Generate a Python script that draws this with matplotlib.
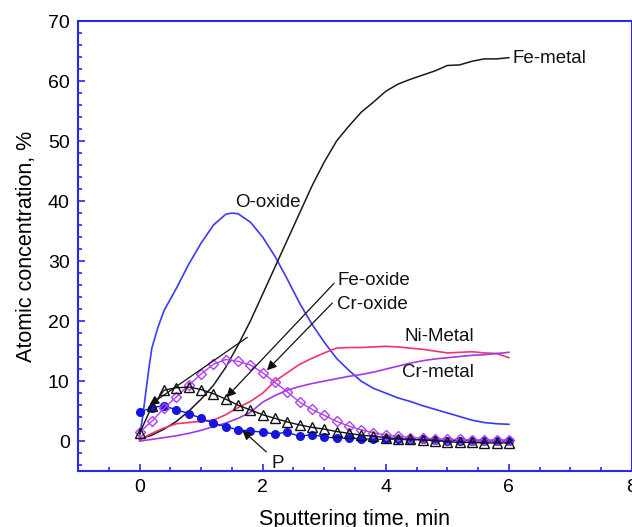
"""
plot.py
XPS depth profile: atomic concentration vs sputtering time.
"""

import numpy as np
import matplotlib
matplotlib.use("Agg")
import matplotlib.pyplot as plt
from matplotlib.ticker import MultipleLocator

plt.rcParams["font.family"] = ["Liberation Sans", "DejaVu Sans"]

# --- data --------------------------------------------------------------
t_line = [0, 0.05, 0.1, 0.15, 0.2, 0.3, 0.4, 0.6, 0.8, 1.0, 1.2, 1.4, 1.5,
          1.6, 1.8, 2.0, 2.2, 2.4, 2.6, 2.8, 3.0, 3.2, 3.4, 3.6, 3.8, 4.0,
          4.2, 4.4, 4.6, 4.8, 5.0, 5.2, 5.4, 5.6, 5.8, 6.0]
o_oxide = [0.7, 4.0, 8.0, 12.0, 15.5, 19.0, 21.8, 25.5, 29.5, 33.0, 36.0,
           37.8, 38.0, 37.9, 36.5, 34.0, 30.8, 27.0, 23.0, 19.5, 16.5, 13.8,
           11.8, 10.0, 8.8, 8.0, 7.2, 6.6, 5.9, 5.3, 4.7, 4.1, 3.5, 3.1,
           2.9, 2.8]

t_grid = [0.0, 0.2, 0.4, 0.6, 0.8, 1.0, 1.2, 1.4, 1.6, 1.8, 2.0, 2.2, 2.4,
          2.6, 2.8, 3.0, 3.2, 3.4, 3.6, 3.8, 4.0, 4.2, 4.4, 4.6, 4.8, 5.0,
          5.2, 5.4, 5.6, 5.8, 6.0]
fe_metal = [0.3, 1.0, 2.0, 3.3, 5.0, 7.0, 9.3, 12.3, 16.0, 20.0, 24.5, 29.0,
            33.5, 38.0, 42.5, 46.5, 50.0, 52.5, 54.8, 56.5, 58.3, 59.5, 60.3,
            61.0, 61.7, 62.6, 62.7, 63.3, 63.7, 63.7, 63.9]
ni_metal = [0.2, 1.3, 2.2, 2.9, 3.1, 3.3, 3.5, 4.4, 5.6, 6.6, 8.0, 10.0,
            11.4, 12.8, 13.8, 14.7, 15.5, 15.6, 15.6, 15.7, 15.8, 15.7, 15.5,
            15.3, 15.0, 14.7, 14.8, 14.9, 14.7, 14.6, 13.9]
cr_metal = [0.0, 0.3, 0.6, 0.9, 1.3, 1.8, 2.4, 3.0, 3.8, 4.8, 6.5, 7.6, 8.5,
            9.1, 9.6, 10.0, 10.4, 10.8, 11.1, 11.5, 12.0, 12.5, 13.0, 13.4,
            13.7, 13.9, 14.1, 14.3, 14.4, 14.6, 14.8]
cr_oxide = [1.5, 3.3, 5.5, 7.4, 9.3, 11.2, 12.8, 13.6, 13.3, 12.7, 11.4, 9.8,
            8.2, 6.5, 5.3, 4.3, 3.3, 2.5, 1.9, 1.4, 1.0, 0.8, 0.6, 0.5, 0.4,
            0.3, 0.3, 0.2, 0.2, 0.2, 0.2]
fe_oxide = [1.3, 5.8, 8.5, 8.9, 9.0, 8.6, 7.9, 7.0, 6.0, 5.2, 4.4, 3.8, 3.2,
            2.7, 2.3, 2.0, 1.6, 1.3, 1.0, 0.8, 0.6, 0.4, 0.3, 0.2, 0.1, -0.1,
            -0.2, -0.2, -0.3, -0.3, -0.3]
p_conc = [4.8, 5.6, 5.9, 5.2, 4.6, 3.8, 3.0, 2.4, 1.9, 1.7, 1.5, 1.2, 1.5,
          0.8, 1.1, 0.7, 0.5, 0.5, 0.4, 0.3, 0.3, 0.3, 0.2, 0.3, 0.2, 0.1,
          0.1, 0.1, 0.0, 0.0, 0.0]

# (text, x, y) for curve labels
labels = [
    ("Fe-metal", 6.06, 63.7),
    ("O-oxide", 1.56, 39.8),
    ("Fe-oxide", 3.21, 26.8),
    ("Cr-oxide", 3.21, 22.8),
    ("Ni-Metal", 4.30, 17.4),
    ("Cr-metal", 4.26, 11.4),
    ("P", 2.15, -3.7),
]
# (tail, head) for pointer arrows
arrows = [
    ((3.16, 26.3), (1.41, 7.3)),
    ((1.75, 17.3), (0.16, 6.0)),
    ((3.13, 23.0), (2.07, 11.8)),
    ((2.06, -1.8), (1.67, 1.8)),
]

AXIS_BLUE = "#2828f0"

fig = plt.figure(figsize=(6.32, 5.27), dpi=100)
ax = fig.add_axes([0.1234, 0.106, 0.8766, 0.854])

ax.plot(t_line, o_oxide, color="#3a3af5", lw=1.2)
ax.plot(t_grid, fe_metal, color="#1a1a1a", lw=1.1)
ax.plot(t_grid, ni_metal, color="#f5336a", lw=1.2)
ax.plot(t_grid, cr_metal, color="#a03ae8", lw=1.2)
ax.plot(t_grid, p_conc, color="#1515e0", lw=1.0, marker="o", ms=5.5,
        mfc="#1515e0", mec="#1515e0")
ax.plot(t_grid, cr_oxide, color="#b040f0", lw=1.0, marker="D", ms=5,
        mfc="none", mec="#b040f0", mew=1.0)
ax.plot(t_grid, fe_oxide, color="#111111", lw=1.0, marker="^", ms=7,
        mfc="none", mec="#111111", mew=1.0)

for txt, x, y in labels:
    ax.text(x, y, txt, fontsize=13.5, va="center", ha="left", color="#111111")

for tail, head in arrows:
    ax.annotate("", xy=head, xytext=tail,
                arrowprops=dict(arrowstyle="-|>", color="#111111", lw=0.9,
                                mutation_scale=14, shrinkA=0, shrinkB=0))

ax.set_xlim(-1, 8)
ax.set_ylim(-5, 70)
ax.xaxis.set_major_locator(MultipleLocator(2))
ax.xaxis.set_minor_locator(MultipleLocator(0.5))
ax.yaxis.set_major_locator(MultipleLocator(10))
ax.yaxis.set_minor_locator(MultipleLocator(2))

for s in ax.spines.values():
    s.set_color(AXIS_BLUE)
    s.set_linewidth(1.5)
ax.tick_params(which="both", direction="in", color=AXIS_BLUE, width=1.2,
               top=False, right=False, labelsize=14)
ax.tick_params(which="major", length=5)
ax.tick_params(which="minor", length=3)
ax.tick_params(axis="x", pad=6)
ax.tick_params(axis="y", pad=6)

ax.set_xlabel("Sputtering time, min", fontsize=15.5, labelpad=9)
ax.set_ylabel("Atomic concentration, %", fontsize=15.5, labelpad=8)

fig.savefig("out.png", dpi=100)
